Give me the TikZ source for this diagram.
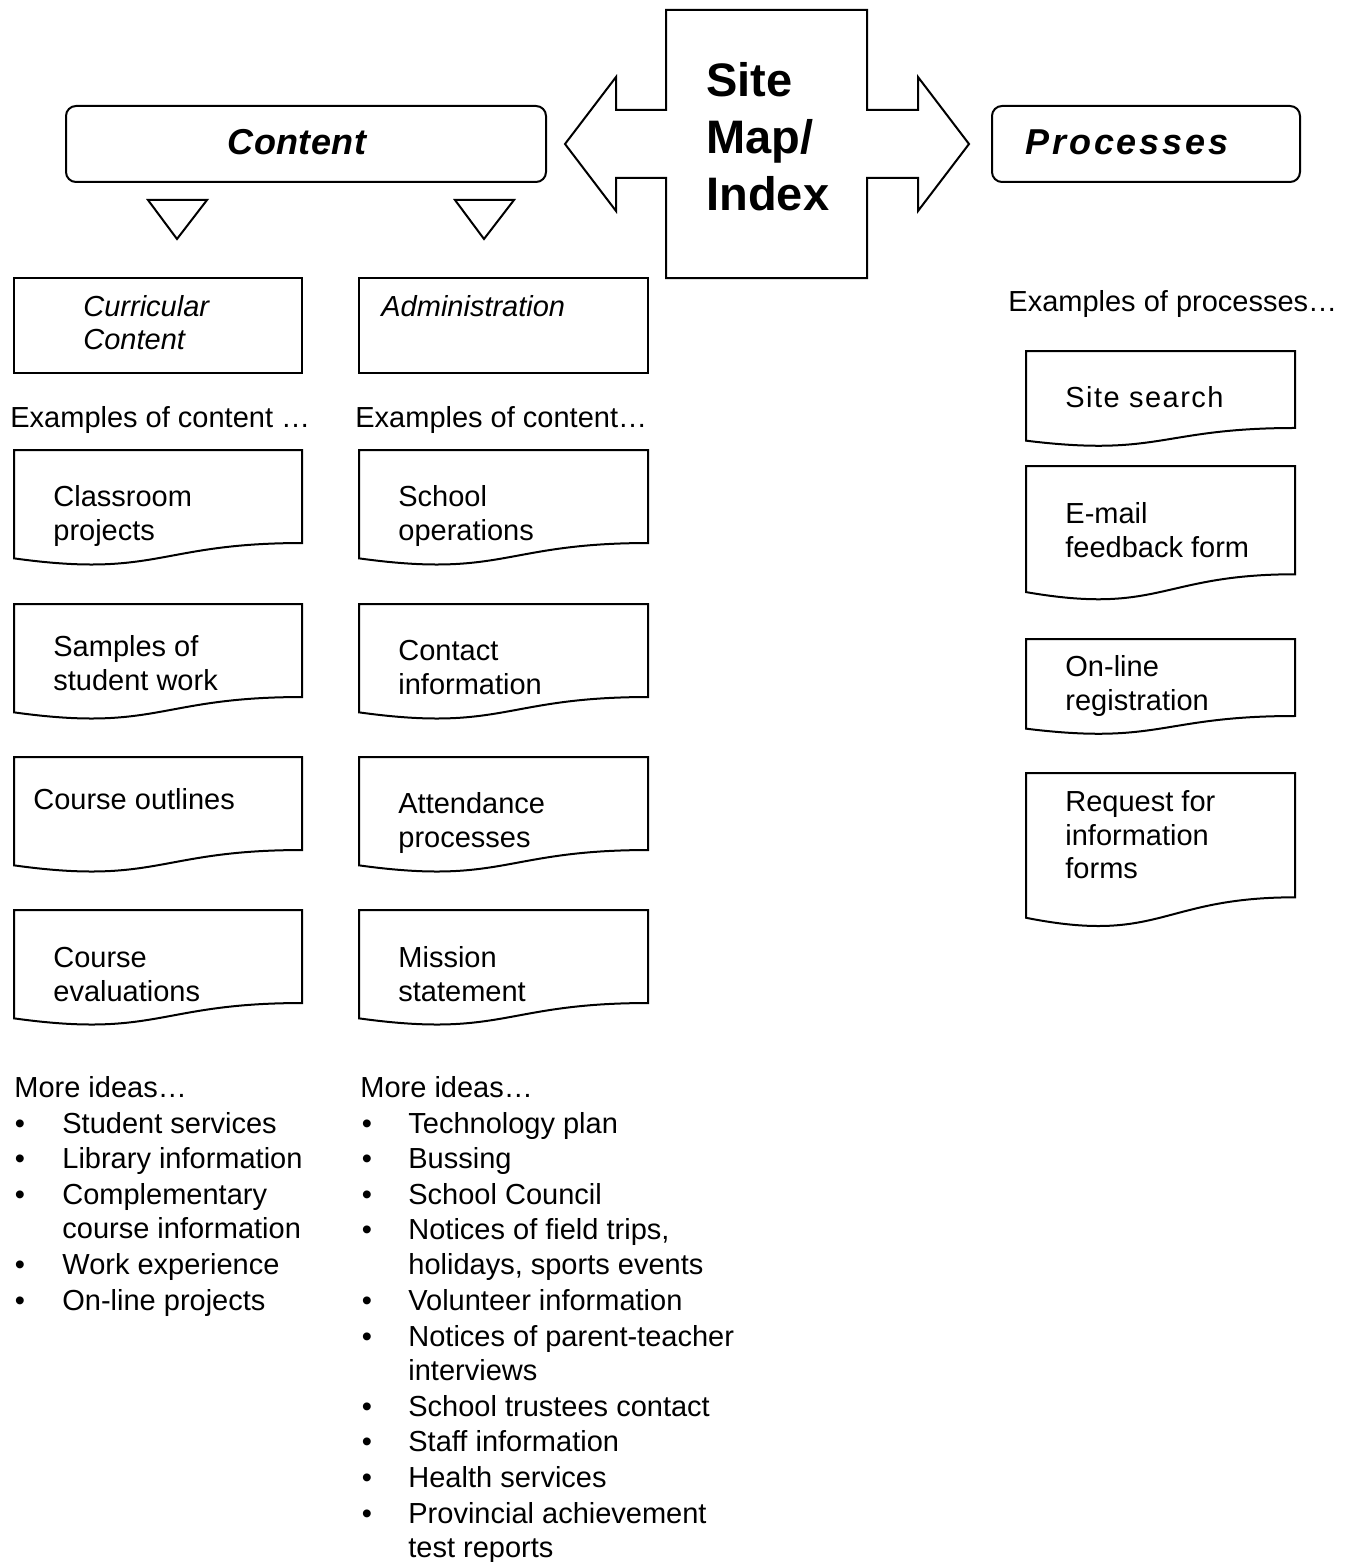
\documentclass[tikz,border=0pt]{standalone}
\usepackage{fontspec}
\setmainfont{Liberation Sans}
\newcommand\nsz{\fontsize{14.5}{17}\selectfont}
\newcommand\docbox[5]{%
 \draw[shapeline] (#2,#3) -- ({#2+#4},#3) -- ({#2+#4},{#3+0.802*#5}) .. controls ({#2+0.5*#4},{#3+0.802*#5}) and ({#2+0.5*#4},{#3+1.107*#5}) .. (#2,{#3+0.934*#5}) -- cycle;
 \coordinate (#1) at (#2,#3);}
\begin{document}
\begin{tikzpicture}[x=0.5pt,y=-0.5pt,
  shapeline/.style={draw=black, line width=1pt, line join=miter},
  txt/.style={anchor=base west, inner sep=0pt, font=\nsz},
  itxt/.style={txt, font=\nsz\itshape},
  bigtxt/.style={anchor=base west, inner sep=0pt, font=\fontsize{23.5}{28.5}\selectfont\bfseries},
  headtxt/.style={anchor=base, inner sep=0pt, font=\fontsize{18}{21}\selectfont\bfseries\itshape}]
\useasboundingbox (0,0) rectangle (1356,1562);

% central cross arrow
\draw[shapeline] (666,10) -- (867,10) -- (867,110) -- (918,110) -- (918,77) -- (969,144) -- (918,211) -- (918,178) -- (867,178) -- (867,278) -- (666,278) -- (666,178) -- (616,178) -- (616,211) -- (565,144) -- (616,77) -- (616,110) -- (666,110) -- cycle;
\coordinate (cross) at (766,144);
\node[bigtxt] (sm1) at (706,97) {Site};
\node[bigtxt] (sm2) at (706,154) {Map/};
\node[bigtxt] (sm3) at (706,211) {Index};

% Content / Processes heads
\draw[shapeline, rounded corners=5pt] (66,106) rectangle (546,182);
\node[headtxt] (content) at (297,155) {\addfontfeature{LetterSpace=1}Content};
\draw[shapeline, rounded corners=5pt] (992,106) rectangle (1300,182);
\node[headtxt, anchor=base west] (processes) at (1025,155) {\addfontfeature{LetterSpace=8}Processes};

% triangles
\draw[shapeline] (148,200) -- (207,200) -- (177,239) -- cycle;
\draw[shapeline] (455,200) -- (514,200) -- (484,239) -- cycle;
\coordinate (tri1) at (177,220);
\coordinate (tri2) at (484,220);

% category boxes
\draw[shapeline] (14,278) rectangle (302,373);
\node[itxt] (cur1) at (83,316) {Curricular};
\node[itxt] (cur2) at (83,349) {Content};
\draw[shapeline] (359,278) rectangle (648,373);
\node[itxt] (adm) at (381,316) {Administration};

\node[txt] (ex1) at (10,427) {Examples of content …};
\node[txt] (ex2) at (355,427) {Examples of content…};
\node[txt] (ex3) at (1008,311) {Examples of processes…};

% column 1 documents
\docbox{d11}{14}{450}{288}{116}
\docbox{d12}{14}{604}{288}{116}
\docbox{d13}{14}{757}{288}{116}
\docbox{d14}{14}{910}{288}{116}
\node[txt] (t11a) at (53,506) {Classroom};
\node[txt] (t11b) at (53,540) {projects};
\node[txt] (t12a) at (53,656) {Samples of};
\node[txt] (t12b) at (53,690) {student work};
\node[txt] (t13a) at (33,809) {Course outlines};
\node[txt] (t14a) at (53,967) {Course};
\node[txt] (t14b) at (53,1001) {evaluations};

% column 2 documents
\docbox{d21}{359}{450}{289}{116}
\docbox{d22}{359}{604}{289}{116}
\docbox{d23}{359}{757}{289}{116}
\docbox{d24}{359}{910}{289}{116}
\node[txt] (t21a) at (398,506) {School};
\node[txt] (t21b) at (398,540) {operations};
\node[txt] (t22a) at (398,660) {Contact};
\node[txt] (t22b) at (398,694) {information};
\node[txt] (t23a) at (398,813) {Attendance};
\node[txt] (t23b) at (398,847) {processes};
\node[txt] (t24a) at (398,967) {Mission};
\node[txt] (t24b) at (398,1001) {statement};

% processes documents
\docbox{d31}{1026}{351}{269}{96}
\docbox{d32}{1026}{466}{269}{135}
\docbox{d33}{1026}{639}{269}{96}
\docbox{d34}{1026}{773}{269}{155}
\node[txt] (t31a) at (1065,407) {\addfontfeature{LetterSpace=5}Site search};
\node[txt] (t32a) at (1065,523) {E-mail};
\node[txt] (t32b) at (1065,557) {feedback form};
\node[txt] (t33a) at (1065,676) {On-line};
\node[txt] (t33b) at (1065,710) {registration};
\node[txt] (t34a) at (1065,811) {Request for};
\node[txt] (t34b) at (1065,845) {information};
\node[txt] (t34c) at (1065,878) {forms};

% lists
\node[txt] (m1) at (14,1097) {More ideas…};
\foreach \n/\y/\t/\b in {a/1133/Student services/1, b/1168/Library information/1, c/1204/Complementary/1, d/1238/course information/0, e/1274/Work experience/1, f/1310/On-line projects/1}{
  \node[txt] (m1\n) at (62,\y) {\t};
  \ifnum\b=1 \node[txt, anchor=base] (b1\n) at (20,\y) {•};\fi
}
\node[txt] (m2) at (360,1097) {More ideas…};
\foreach \n/\y/\t/\b in {a/1133/Technology plan/1, b/1168/Bussing/1, c/1204/School Council/1, d/1239/{Notices of field trips,}/1, e/1274/{holidays, sports events}/0, f/1310/Volunteer information/1, g/1346/Notices of parent-teacher/1, h/1380/interviews/0, i/1416/School trustees contact/1, j/1451/Staff information/1, k/1487/Health services/1, l/1523/Provincial achievement/1, m/1557/test reports/0}{
  \node[txt] (m2\n) at (408,\y) {\t};
  \ifnum\b=1 \node[txt, anchor=base] (b2\n) at (367,\y) {•};\fi
}
\end{tikzpicture}
\end{document}
